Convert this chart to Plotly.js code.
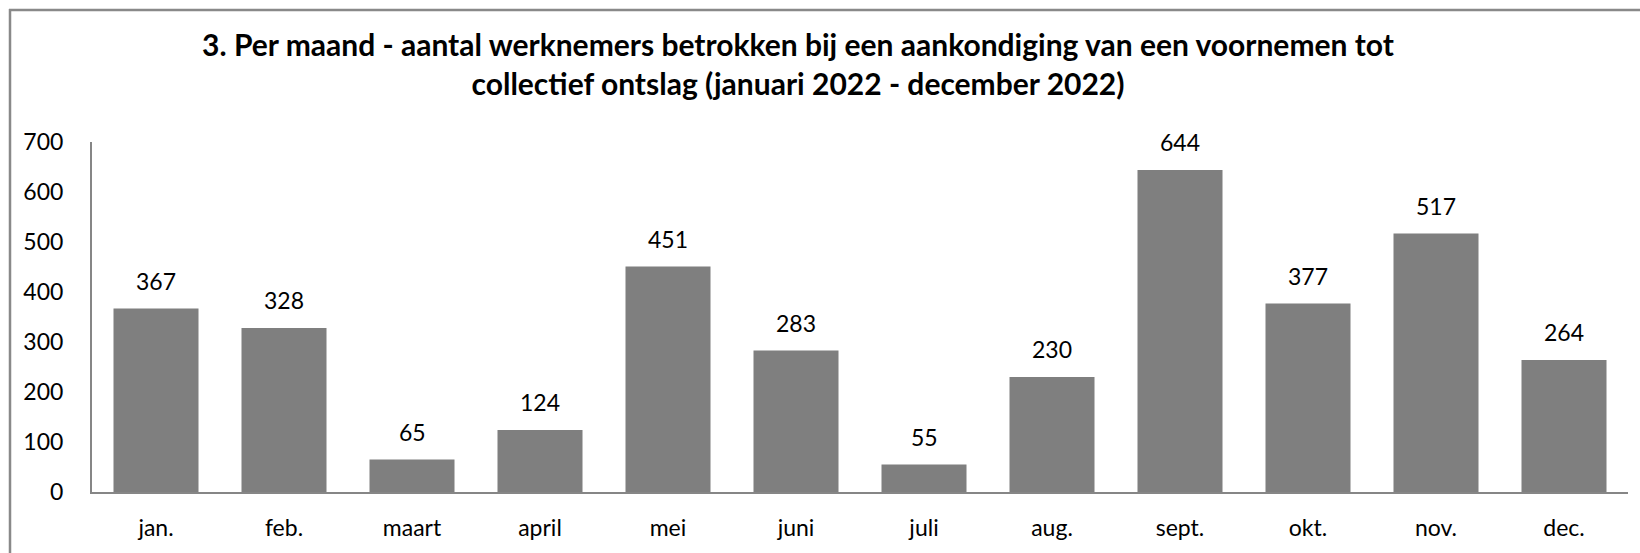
<!DOCTYPE html>
<html>
<head>
<meta charset="utf-8">
<script src="https://cdn.plot.ly/plotly-3.0.1.min.js"></script>
<style>
  html, body { margin: 0; padding: 0; background: #ffffff; }
  #chart { width: 1640px; height: 553px; }
</style>
</head>
<body>
<div id="chart"></div>
<script>
// Data
const months = ["jan.", "feb.", "maart", "april", "mei", "juni", "juli", "aug.", "sept.", "okt.", "nov.", "dec."];
const werknemers = [367, 328, 65, 124, 451, 283, 55, 230, 644, 377, 517, 264];
const yTicks = [0, 100, 200, 300, 400, 500, 600, 700];
const titleText = "3. Per maand - aantal werknemers betrokken bij een aankondiging van een voornemen tot<br>collectief ontslag (januari 2022 - december 2022)";

const FONT = "Lato, 'Open Sans', sans-serif";

const trace = {
  type: "bar",
  x: months,
  y: werknemers,
  marker: { color: "#7f7f7f", line: { width: 0 } },
  hoverinfo: "x+y",
  showlegend: false
};

const labelAnnotations = months.map((m, i) => ({
  x: m,
  y: werknemers[i],
  xref: "x",
  yref: "y",
  text: String(werknemers[i]),
  showarrow: false,
  yanchor: "bottom",
  yshift: 12,
  font: { family: FONT, size: 23, color: "#000000" }
}));

// plot area: x 92..1628 px, y 142..492 px
const L = 92, R = 12, T = 142, B = 61;
const pw = 1640 - L - R, ph = 553 - T - B;
const px2x = p => (p - L) / pw;
const py2y = p => (553 - B - p) / ph;

const layout = {
  width: 1640,
  height: 553,
  margin: { l: L, r: R, t: T, b: B, pad: 0 },
  paper_bgcolor: "#ffffff",
  plot_bgcolor: "#ffffff",
  font: { family: FONT, color: "#000000" },
  title: {
    text: titleText,
    font: { family: FONT, size: 30, color: "#000000", weight: "bold" },
    xref: "container",
    yref: "container",
    x: 798 / 1640,
    xanchor: "center",
    y: 1 - 56 / 553,
    yanchor: "top"
  },
  bargap: 0.336,
  xaxis: {
    type: "category",
    showgrid: false,
    zeroline: false,
    showline: true,
    linecolor: "#868686",
    linewidth: 2,
    ticks: "",
    ticklabelstandoff: 14,
    tickfont: { family: FONT, size: 23, color: "#000000" },
    fixedrange: true
  },
  yaxis: {
    range: [0, 700],
    tickmode: "array",
    tickvals: yTicks,
    ticktext: yTicks.map(String),
    showgrid: false,
    zeroline: false,
    showline: true,
    linecolor: "#868686",
    linewidth: 2,
    ticks: "",
    ticklabelstandoff: 22,
    tickfont: { family: FONT, size: 23, color: "#000000" },
    fixedrange: true
  },
  annotations: labelAnnotations,
  shapes: [
    { type: "line", xref: "paper", yref: "paper",
      x0: px2x(10), x1: px2x(10), y0: py2y(9), y1: py2y(560),
      line: { color: "#898989", width: 2.5 } },
    { type: "line", xref: "paper", yref: "paper",
      x0: px2x(9), x1: px2x(1645), y0: py2y(10), y1: py2y(10),
      line: { color: "#898989", width: 2.5 } }
  ]
};

Plotly.newPlot("chart", [trace], layout, { displayModeBar: false, staticPlot: true });
</script>
</body>
</html>
